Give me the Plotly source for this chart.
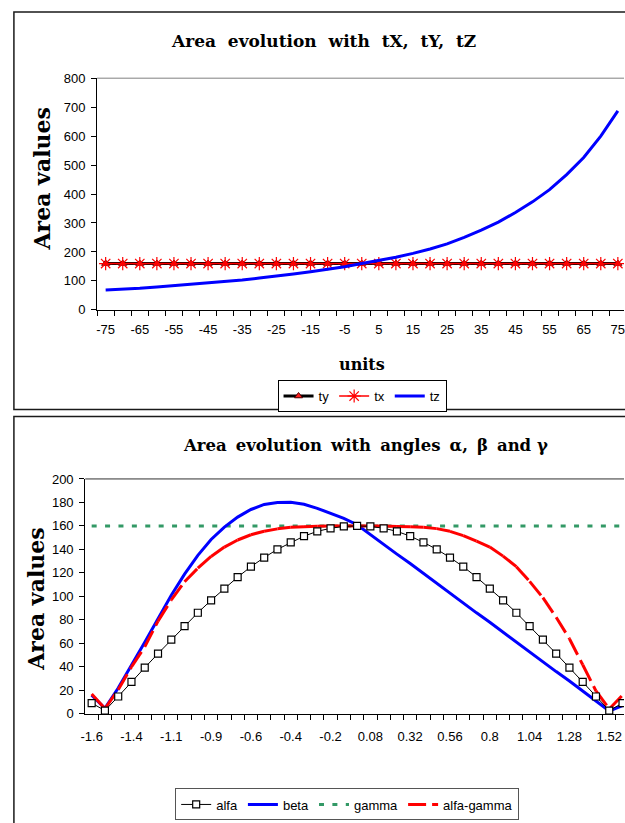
import plotly.graph_objects as go

W, H = 625, 823


def px(x):
    return x / W


def py(y):
    return 1 - y / H


# ---------------- top chart data ----------------
units = [-75, -70, -65, -60, -55, -50, -45, -40, -35, -30, -25, -20, -15, -10, -5,
         0, 5, 10, 15, 20, 25, 30, 35, 40, 45, 50, 55, 60, 65, 70, 75]
ty = [160, 160, 160, 160, 160, 160, 160, 160, 160, 160, 160, 160, 160, 160, 160, 160,
      160, 160, 160, 160, 160, 160, 160, 160, 160, 160, 160, 160, 160, 160, 160]
tx = [160, 160, 160, 160, 160, 160, 160, 160, 160, 160, 160, 160, 160, 160, 160, 160,
      160, 160, 160, 160, 160, 160, 160, 160, 160, 160, 160, 160, 160, 160, 160]
tz = [69, 71, 74.5, 79, 84, 88, 92, 98, 103, 110, 116, 124, 132, 140, 149, 160,
      170, 182, 195, 210, 228, 250, 275, 303, 336, 373, 415, 467, 526, 600, 687]
unit_tick_labels = ["-75", "-65", "-55", "-45", "-35", "-25", "-15", "-5",
                    "5", "15", "25", "35", "45", "55", "65", "75"]
unit_tick_positions = units[::2]
unit_boundaries = [u - 2.5 for u in units]
area_ticks_top = [0, 100, 200, 300, 400, 500, 600, 700, 800]

# ---------------- bottom chart data ----------------
angles = [-1.6, -1.52, -1.44, -1.36, -1.28, -1.2, -1.12, -1.04, -0.96, -0.88, -0.8,
          -0.72, -0.64, -0.56, -0.48, -0.4, -0.32, -0.24, -0.16, -0.08, 0.0,
          0.08, 0.16, 0.24, 0.32, 0.4, 0.48, 0.56, 0.64, 0.72, 0.8,
          0.88, 0.96, 1.04, 1.12, 1.2, 1.28, 1.36, 1.44, 1.52, 1.6]
angle_tick_labels = ["-1.6", "-1.4", "-1.1", "-0.9", "-0.6", "-0.4", "-0.2",
                     "0.08", "0.32", "0.56", "0.8", "1.04", "1.28", "1.52"]
angle_tick_positions = angles[::3]
angle_boundaries = [a - 0.04 for a in angles]
alfa = [9.2, 2.8, 14.8, 27.3, 39.3, 51.3, 63.2, 74.7, 86.1, 96.7, 106.7, 116.4, 125.3,
        133.1, 140.1, 146, 151.3, 155.4, 158, 159.6, 160, 159.6, 158, 155.4, 151.3,
        146, 140.1, 133.1, 125.3, 116.4, 106.7, 96.7, 86.1, 74.7, 63.2, 51.3, 39.3,
        27.3, 14.8, 2.8, 9.2]
beta = [16, 4.7, 22, 41, 61, 81, 101, 119, 135, 148.5, 159, 167.5, 174, 178.3, 180,
        180.2, 178.5, 175, 171, 166.5, 161, 152.5, 144.5, 136, 128, 119.5, 111, 103,
        94.5, 86, 78, 69.5, 61, 53, 44.5, 36, 28, 19.5, 11, 2.5, 7]
gamma = [160, 160, 160, 160, 160, 160, 160, 160, 160, 160, 160, 160, 160, 160, 160,
         160, 160, 160, 160, 160, 160, 160, 160, 160, 160, 160, 160, 160, 160, 160,
         160, 160, 160, 160, 160, 160, 160, 160, 160, 160, 160]
alfa_gamma = [17, 4.5, 20.5, 40, 57, 79, 97, 112.5, 124, 134, 142, 148, 152.5, 155.5,
              157.5, 158.8, 159.4, 159.8, 160, 160, 160, 160, 159.9, 159.6, 159.3,
              158.8, 157.7, 155.4, 151.8, 147, 142, 134.3, 125.3, 112.8, 98.9, 82.2,
              64, 41.8, 19.5, 4.2, 16]
area_ticks_bottom = [0, 20, 40, 60, 80, 100, 120, 140, 160, 180, 200]

SANS = "Liberation Sans, Arial, sans-serif"
SERIF = "DejaVu Serif, serif"
GAP = "\u00a0 "
GAP2 = " \u2009"

fig = go.Figure()

# ---- top traces
fig.add_trace(go.Scatter(
    x=units, y=ty, name="ty", mode="lines+markers", xaxis="x", yaxis="y",
    legend="legend",
    line=dict(color="black", width=3),
    marker=dict(symbol="triangle-up", size=7, color="#ff2020",
                line=dict(color="#500000", width=1))))
fig.add_trace(go.Scatter(
    x=units, y=tx, name="tx", mode="lines+markers", xaxis="x", yaxis="y",
    legend="legend",
    line=dict(color="red", width=1.6),
    marker=dict(symbol="asterisk-open", size=11, color="red",
                line=dict(color="red", width=1.2))))
fig.add_trace(go.Scatter(
    x=units, y=tz, name="tz", mode="lines", xaxis="x", yaxis="y",
    legend="legend", line=dict(color="blue", width=3)))
# invisible carrier for the label axis of the top chart
fig.add_trace(go.Scatter(
    x=units, y=tz, xaxis="x3", yaxis="y", mode="markers", showlegend=False,
    hoverinfo="skip", marker=dict(opacity=0)))

# ---- bottom traces
fig.add_trace(go.Scatter(
    x=angles, y=gamma, name="gamma", mode="lines", xaxis="x2", yaxis="y2",
    legend="legend2", legendrank=3,
    line=dict(color="#339966", width=3, dash="5px,8.4px")))
fig.add_trace(go.Scatter(
    x=angles, y=beta, name="beta", mode="lines", xaxis="x2", yaxis="y2",
    legend="legend2", legendrank=2,
    line=dict(color="blue", width=3)))
for i in range(len(angles) - 1):
    fig.add_trace(go.Scatter(
        x=angles[i:i + 2], y=alfa_gamma[i:i + 2], name="alfa-gamma", mode="lines",
        xaxis="x2", yaxis="y2", legend="legend2", legendrank=4,
        showlegend=(i == 0),
        line=dict(color="red", width=3, dash="18px,6px")))
fig.add_trace(go.Scatter(
    x=angles, y=alfa, name="alfa", mode="lines+markers", xaxis="x2", yaxis="y2",
    legend="legend2", legendrank=1,
    line=dict(color="black", width=1),
    marker=dict(symbol="square", size=7, color="white",
                line=dict(color="black", width=1.2))))
# invisible carrier for the label axis of the bottom chart
fig.add_trace(go.Scatter(
    x=angles, y=alfa, xaxis="x4", yaxis="y2", mode="markers", showlegend=False,
    hoverinfo="skip", marker=dict(opacity=0)))

axis_common = dict(showgrid=False, zeroline=False, showline=True, linecolor="black",
                   linewidth=1, tickcolor="black",
                   tickfont=dict(family=SANS, size=13, color="black"))

fig.update_layout(
    width=W, height=H, margin=dict(l=0, r=0, t=0, b=0),
    paper_bgcolor="white", plot_bgcolor="white", hovermode=False,
    xaxis=dict(domain=[px(93), 1], range=[-77.5, 76.8], anchor="y",
               tickmode="array", tickvals=unit_boundaries, showticklabels=False,
               ticks="outside", ticklen=5, **axis_common),
    xaxis3=dict(overlaying="x", anchor="y", side="bottom", range=[-77.5, 76.8],
                tickmode="array", tickvals=unit_tick_positions,
                ticktext=unit_tick_labels, ticks="", showline=False,
                showgrid=False, zeroline=False, ticklabelstandoff=10,
                ticklabeloverflow="allow",
                tickfont=dict(family=SANS, size=13, color="black")),
    yaxis=dict(domain=[py(308.5), py(72.5)], range=[0, 800], anchor="x",
               tickmode="array", tickvals=area_ticks_top, ticklabelstandoff=3,
               ticks="outside", ticklen=5, **axis_common),
    xaxis2=dict(domain=[px(81), 1], range=[-1.6388, 1.6089], anchor="y2",
                tickmode="array", tickvals=angle_boundaries, showticklabels=False,
                ticks="outside", ticklen=5, **axis_common),
    xaxis4=dict(overlaying="x2", anchor="y2", side="bottom", range=[-1.6388, 1.6089],
                tickmode="array", tickvals=angle_tick_positions,
                ticktext=angle_tick_labels, ticks="", showline=False,
                showgrid=False, zeroline=False, ticklabelstandoff=13,
                ticklabeloverflow="allow",
                tickfont=dict(family=SANS, size=13, color="black")),
    yaxis2=dict(domain=[py(720), py(480.7)], range=[0, 200], anchor="x2",
                tickmode="array", tickvals=area_ticks_bottom, ticklabelstandoff=3,
                ticks="outside", ticklen=5, **axis_common),
    legend=dict(orientation="h", x=px(360.5), y=py(380), xanchor="center",
                yanchor="top", bordercolor="black", borderwidth=1, bgcolor="white",
                font=dict(family=SANS, size=13, color="black"), itemwidth=30,
                tracegroupgap=0),
    legend2=dict(orientation="h", x=px(345.5), y=py(796), xanchor="center",
                 yanchor="top", bordercolor="#555555", borderwidth=1, bgcolor="white",
                 font=dict(family=SANS, size=13, color="black"), itemwidth=30,
                 traceorder="normal", tracegroupgap=0),
)

shapes = [
    dict(type="rect", xref="paper", yref="paper", x0=px(9), x1=px(700),
         y0=py(410), y1=py(5), line=dict(color="#1a1a1a", width=1.5)),
    dict(type="rect", xref="paper", yref="paper", x0=px(9), x1=px(700),
         y0=py(900), y1=py(417), line=dict(color="#1a1a1a", width=1.5)),
    dict(type="line", xref="paper", yref="paper", x0=px(93), x1=1,
         y0=py(72.5), y1=py(72.5), line=dict(color="#808080", width=1)),
    dict(type="line", xref="paper", yref="paper", x0=px(81), x1=1,
         y0=py(480.7), y1=py(480.7), line=dict(color="#303030", width=1)),
]
fig.update_layout(shapes=shapes)

ann_common = dict(xref="paper", yref="paper", showarrow=False,
                  xanchor="center", yanchor="middle")
annotations = [
    dict(text="<b>Area" + GAP + "evolution" + GAP + "with" + GAP + "tX," + GAP + "tY,"
         + GAP + "tZ</b>",
         x=px(322), y=py(35), font=dict(family=SERIF, size=17, color="black"),
         **ann_common),
    dict(text="<b>Area values</b>", x=px(37), y=py(175), textangle=-90,
         font=dict(family=SERIF, size=22, color="black"), **ann_common),
    dict(text="<b>units</b>", x=px(360), y=py(364),
         font=dict(family=SERIF, size=16, color="black"), **ann_common),
    dict(text="<b>Area" + GAP2 + "evolution" + GAP2 + "with" + GAP2 + "angles" + GAP2
         + "α," + GAP2 + "β" + GAP2 + "and γ</b>",
         x=px(364), y=py(447), font=dict(family=SERIF, size=16.5, color="black"),
         **ann_common),
    dict(text="<b>Area values</b>", x=px(31), y=py(603), textangle=-90,
         font=dict(family=SERIF, size=22, color="black"), **ann_common),
]
fig.update_layout(annotations=annotations)

fig.write_html(
    "out.html",
    config={"displayModeBar": False},
    post_script=(
        "document.documentElement.style.margin='0';"
        "document.documentElement.style.overflow='hidden';"
        "document.body.style.margin='0';document.body.style.padding='0';"
        "document.body.style.overflow='hidden';"
        "var gd=document.getElementsByClassName('plotly-graph-div')[0];"
        "gd.style.position='fixed';gd.style.left='0px';gd.style.top='0px';"
    ),
)
